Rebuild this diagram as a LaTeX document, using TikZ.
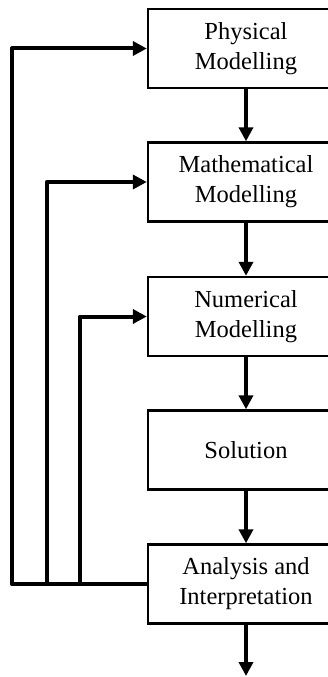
\documentclass[tikz,border=0pt]{standalone}
\usepackage{fontspec}
\setmainfont{Liberation Serif}
\usetikzlibrary{arrows.meta,calc}

\def\Lvatly{Physical\\Modelling}
\def\Ltoanhoc{Mathematical\\Modelling}
\def\Lsotri{Numerical\\Modelling}
\def\Lloigiai{Solution}
\def\Lphantich{Analysis and\\Interpretation}

\begin{document}
\begin{tikzpicture}[x=1pt, y=1pt,
  khoi/.style={
    draw=black, line width=2.4pt, fill=white, align=center,
    minimum width=196pt, minimum height=79pt, inner sep=0pt,
    font=\fontsize{24.5}{30}\selectfont
  },
  muiten/.style={
    line width=4pt, line join=round, -{Triangle[length=14pt, width=14pt]}
  }
]

% khung anh: 327 x 677 px, hop ben phai bi cat mep
\useasboundingbox (0,0) rectangle (327,-677);

% ── Nam hop theo cot ──
\node[khoi] (vatly)   at (246, -48.5) {\Lvatly};
\node[khoi] (toanhoc) at (246,-182)   {\Ltoanhoc};
\node[khoi] (sotri)   at (246,-316.5) {\Lsotri};
\node[khoi] (loigiai) at (246,-450)   {\Lloigiai};
\node[khoi] (phantich) at (246,-584)  {\Lphantich};
\coordinate (cuoi) at (246,-676);

% ── Mui ten doc ──
\draw[muiten] (vatly.south) -- (toanhoc.north);
\draw[muiten] (toanhoc.south) -- (sotri.north);
\draw[muiten] (sotri.south) -- (loigiai.north);
\draw[muiten] (loigiai.south) -- (phantich.north);
\draw[muiten] (phantich.south) -- (cuoi);

% ── Ba vong phan hoi ben trai ──
\draw[muiten] (phantich.west) -- ++(-135,0) |- (vatly.west);
\draw[muiten] (phantich.west) -- ++(-100,0) |- (toanhoc.west);
\draw[muiten] (phantich.west) -- ++(-67,0)  |- (sotri.west);

\end{tikzpicture}
\end{document}
